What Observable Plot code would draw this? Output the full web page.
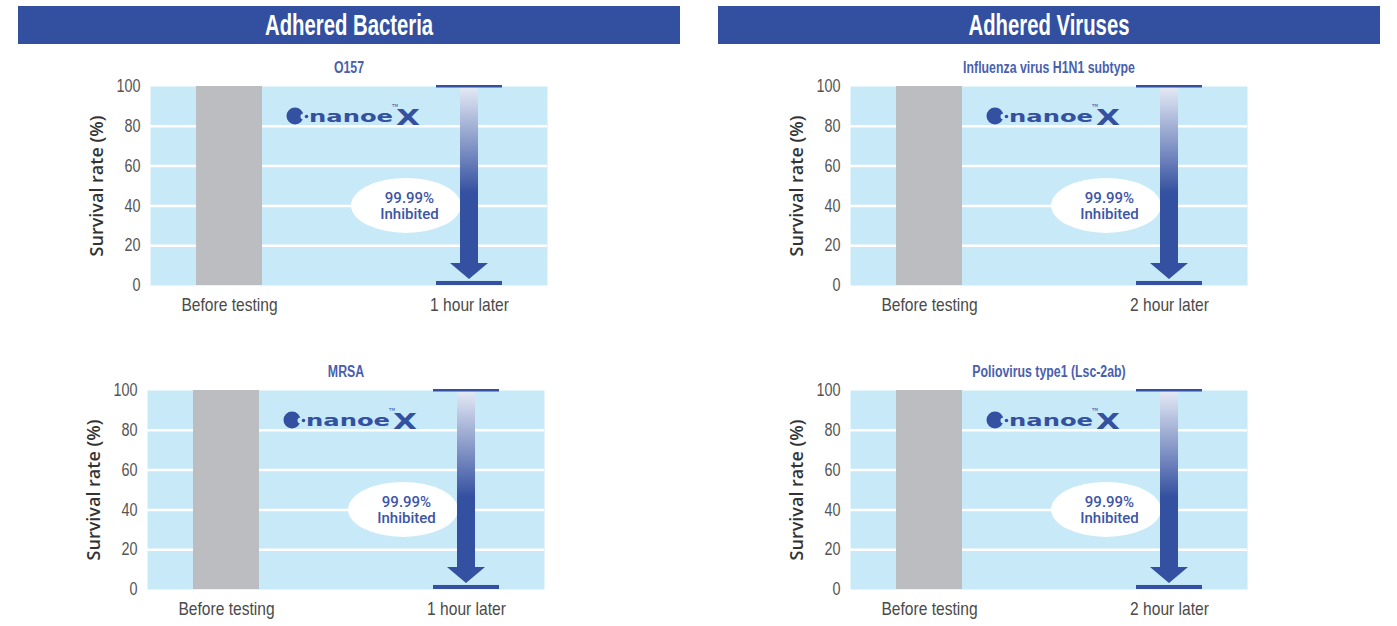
<!DOCTYPE html>
<html>
<head>
<meta charset="utf-8">
<script src="https://cdn.jsdelivr.net/npm/d3@7"></script>
<script src="https://cdn.jsdelivr.net/npm/@observablehq/plot@0.6"></script>
<style>
  html, body { margin: 0; padding: 0; background: #fff; }
  body { width: 1397px; height: 626px; position: relative; overflow: hidden; font-family: "Liberation Sans", sans-serif; }
  .hdr { position: absolute; top: 6px; height: 38px; width: 662px; background: #334fa0; color: #fff; text-align: center; line-height: 38px; font-weight: bold; font-size: 29px; font-family: "Liberation Sans", sans-serif; }
  .hdr span { display: inline-block; transform: scaleX(0.70); }
  .chart { position: absolute; }
  .chart svg { overflow: visible; }
</style>
</head>
<body>
<div id="root"></div>
<script>
// ---- data ----
const groupTitles = ["Adhered Bacteria", "Adhered Viruses"];
const subtitles = ["O157", "MRSA", "Influenza virus H1N1 subtype", "Poliovirus type1 (Lsc-2ab)"];
const beforeLabel = "Before testing";
const laterLabels = ["1 hour later", "1 hour later", "2 hour later", "2 hour later"];
const beforeValues = [100, 100, 100, 100];
const afterValues = [0.01, 0.01, 0.01, 0.01];
const reductionText = ["99.99%", "Inhibited"];
const yTicks = [0, 20, 40, 60, 80, 100];
const yLabel = "Survival rate (%)";
const logoText = "nanoe";

// ---- layout ----
const headerLeft = [18, 718];
const panelPos = [[0, 50], [-3, 354], [700, 50], [700, 354]];
const BLUE = "#3450a0";
const BG = "#c7e9f8";

const root = document.getElementById("root");
groupTitles.forEach((t, k) => {
  const d = document.createElement("div");
  d.className = "hdr";
  d.style.left = headerLeft[k] + "px";
  const s = document.createElement("span");
  s.textContent = t;
  d.appendChild(s);
  root.appendChild(d);
});

function overlay(i, cats) {
  return (index, scales, values, dim) => {
    const x = scales.x, y = scales.y;
    const bw = typeof x.bandwidth === "function" ? x.bandwidth() : x.bandwidth;
    const x0 = x(cats[1]);
    const cx = x0 + bw / 2;
    const yTop = y(beforeValues[i]);
    const yBot = y(afterValues[i]);
    const g = d3.create("svg:g").attr("text-anchor", "start");
    const id = "shaftGrad" + i;
    const lg = g.append("defs").append("linearGradient").attr("id", id)
      .attr("x1", 0).attr("y1", 0).attr("x2", 0).attr("y2", 1);
    lg.append("stop").attr("offset", "0").attr("stop-color", "#e4e9f5");
    lg.append("stop").attr("offset", "0.6").attr("stop-color", BLUE);
    lg.append("stop").attr("offset", "1").attr("stop-color", BLUE);
    // ellipse behind label
    g.append("ellipse").attr("cx", cx - 63).attr("cy", y(40)).attr("rx", 55).attr("ry", 27.5).attr("fill", "#fff");
    // arrow shaft
    const headTop = yBot - 22;
    g.append("rect").attr("x", cx - 9).attr("y", yTop + 1.5).attr("width", 18)
      .attr("height", headTop - yTop - 1).attr("fill", `url(#${id})`);
    // arrow head
    g.append("path").attr("d", `M${cx - 19},${headTop}L${cx + 19},${headTop}L${cx},${yBot - 6}Z`).attr("fill", BLUE);
    // top marker (before level)
    g.append("rect").attr("x", x0).attr("y", yTop - 1).attr("width", bw).attr("height", 2.5).attr("fill", BLUE);
    // bottom marker (after level)
    g.append("rect").attr("x", x0).attr("y", yBot - 4).attr("width", bw).attr("height", 4).attr("fill", BLUE);
    // logo
    const lx = dim.marginLeft + 138, ly = dim.marginTop + 30;
    g.append("circle").attr("cx", lx + 7).attr("cy", ly).attr("r", 8.5).attr("fill", BLUE);
    g.append("circle").attr("cx", lx + 15.5).attr("cy", ly + 0.5).attr("r", 3).attr("fill", BG);
    g.append("circle").attr("cx", lx + 18.5).attr("cy", ly + 0.5).attr("r", 1.8).attr("fill", BLUE);
    g.append("text").attr("x", lx + 21).attr("y", ly + 5.5).attr("text-anchor", "start")
      .attr("font-family", "DejaVu Sans").attr("font-weight", "bold").attr("font-size", 16)
      .attr("textLength", 84).attr("lengthAdjust", "spacingAndGlyphs").attr("fill", BLUE).text(logoText);
    g.append("text").attr("x", lx + 108).attr("y", ly + 8.5).attr("text-anchor", "start")
      .attr("font-family", "DejaVu Sans").attr("font-weight", "bold").attr("font-size", 21)
      .attr("textLength", 24).attr("lengthAdjust", "spacingAndGlyphs").attr("fill", BLUE).text("X");
    g.append("text").attr("x", lx + 104).attr("y", ly - 9).attr("text-anchor", "start")
      .attr("font-family", "DejaVu Sans").attr("font-size", 4).attr("fill", BLUE).text("TM");
    return g.node();
  };
}

// condensed look: squeeze each text to a fraction of its natural width (no position change)
const measureCtx = document.createElement("canvas").getContext("2d");
function squeeze(t, s, fontSize, weight) {
  measureCtx.font = `${weight} ${fontSize}px "Liberation Sans"`;
  const w = measureCtx.measureText(t.textContent).width;
  t.setAttribute("textLength", (w * s).toFixed(1));
  t.setAttribute("lengthAdjust", "spacingAndGlyphs");
}
function condense(svg, label, s, fontSize, weight = "normal") {
  svg.querySelectorAll(`g[aria-label="${label}"] text`).forEach(t => squeeze(t, s, fontSize, weight));
}
function condenseText(svg, content, s, fontSize, weight = "normal") {
  svg.querySelectorAll("text").forEach(t => {
    if (t.textContent === content) squeeze(t, s, fontSize, weight);
  });
}

function chart(i) {
  const cats = [beforeLabel, laterLabels[i]];
  const before = [{cat: cats[0], v: beforeValues[i]}];
  const svg = Plot.plot({
    width: 680, height: 270,
    marginLeft: 150, marginRight: 133, marginTop: 36, marginBottom: 35,
    style: {background: "transparent", color: "#555", fontFamily: "Liberation Sans, sans-serif"},
    x: {domain: cats, paddingInner: 0.726, paddingOuter: 0.187, axis: null},
    y: {domain: [0, 100], axis: null},
    marks: [
      Plot.frame({fill: BG, stroke: null}),
      Plot.ruleY(yTicks.filter(d => d > 0 && d < 100), {stroke: "#fff", strokeWidth: 2.5}),
      Plot.barY(before, {x: "cat", y: "v", fill: "#bcbdc0"}),
      overlay(i, cats),
      Plot.text([reductionText.join("\n")], {
        x: () => cats[1], y: () => 40, dx: -60, text: d => d,
        fontSize: 15, fontWeight: 500, fontFamily: "Roboto", fill: "#3d55a8", lineHeight: 1.08
      }),
      Plot.axisY({ticks: yTicks, tickSize: 0, tickPadding: 10, fontSize: 18, label: null, color: "#555"}),
      Plot.axisX({tickSize: 0, tickPadding: 12, fontSize: 19, label: null, color: "#4a4a4a"}),
      Plot.text([yLabel], {
        frameAnchor: "left", dx: -53, rotate: -90, text: d => d, textAnchor: "middle",
        fontSize: 18, fontWeight: 600, fontFamily: "Open Sans", fill: "#333"
      }),
      Plot.text([subtitles[i]], {
        frameAnchor: "top", dy: -19, text: d => d, textAnchor: "middle", lineAnchor: "middle",
        fontSize: 16, fontWeight: "bold", fill: "#4a5fae"
      })
    ]
  });
  condense(svg, "y-axis tick label", 0.8, 18);
  condense(svg, "x-axis tick label", 0.82, 19);
  condenseText(svg, subtitles[i], 0.77, 16, "bold");
  return svg;
}

// panel order: 0 O157 (TL), 1 MRSA (BL), 2 H1N1 (TR), 3 Polio (BR)
subtitles.forEach((s, i) => {
  const el = chart(i);
  const wrap = document.createElement("div");
  wrap.className = "chart";
  wrap.style.left = panelPos[i][0] + "px";
  wrap.style.top = panelPos[i][1] + "px";
  wrap.appendChild(el);
  root.appendChild(wrap);
});
</script>
</body>
</html>
